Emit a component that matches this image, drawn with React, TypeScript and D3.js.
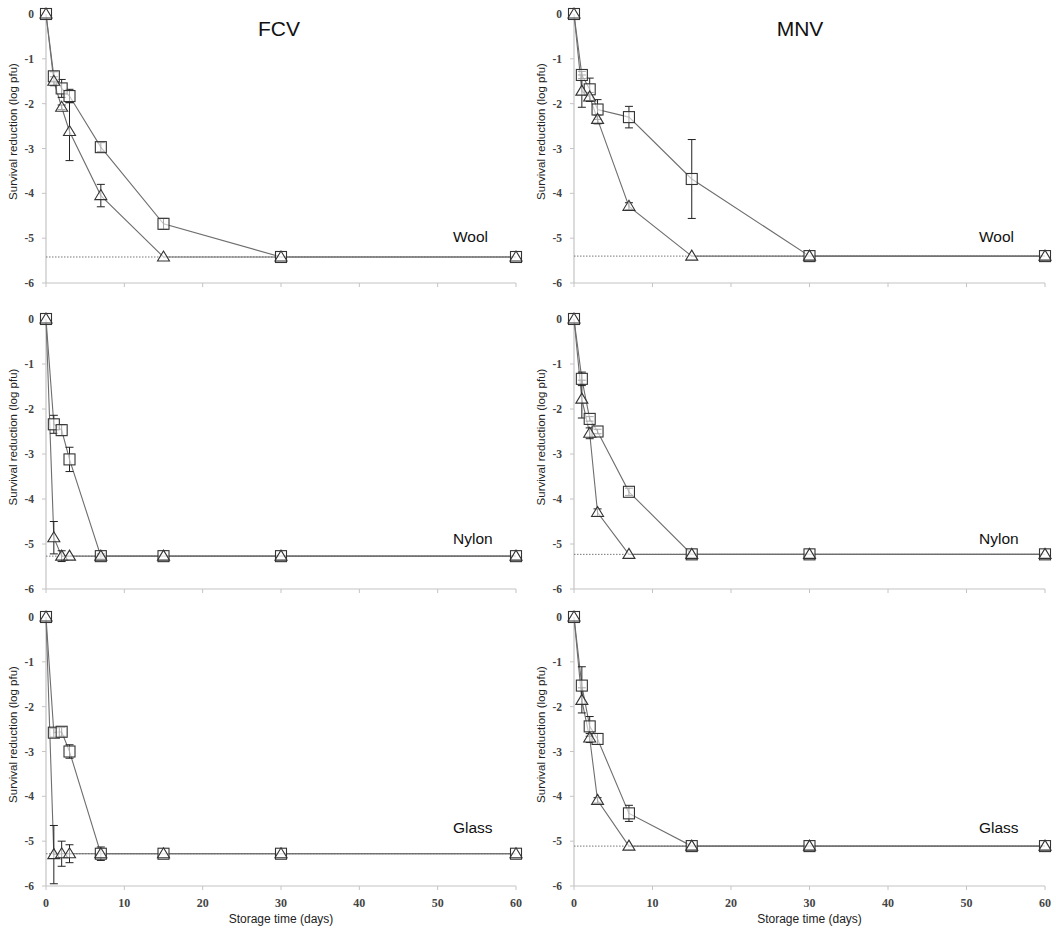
import React from "react";
import * as d3 from "d3";

const DAYS = [0, 1, 2, 3, 7, 15, 30, 60];
const Y_TICKS = [0, -1, -2, -3, -4, -5, -6];
const X_TICKS = [0, 10, 20, 30, 40, 50, 60];
const VIRUSES = ["FCV", "MNV"];
const MATERIALS = ["Wool", "Nylon", "Glass"];

// FCV
const fcvWoolSq = [0, -1.39, -1.66, -1.83, -2.97, -4.68, -5.42, -5.42];
const fcvWoolSqErr = [0, 0.1, 0.2, 0.15, 0.1, 0.12, 0, 0];
const fcvWoolTri = [0, -1.5, -2.08, -2.62, -4.05, -5.42, -5.42, -5.42];
const fcvWoolTriErr = [0, 0.1, 0.05, 0.65, 0.25, 0, 0, 0];
const fcvNylonSq = [0, -2.34, -2.47, -3.12, -5.27, -5.27, -5.27, -5.27];
const fcvNylonSqErr = [0, 0.2, 0.12, 0.27, 0.05, 0, 0, 0];
const fcvNylonTri = [0, -4.86, -5.27, -5.27, -5.27, -5.27, -5.27, -5.27];
const fcvNylonTriErr = [0, 0.36, 0.12, 0, 0, 0, 0, 0];
const fcvGlassSq = [0, -2.58, -2.56, -3.0, -5.28, -5.28, -5.28, -5.28];
const fcvGlassSqErr = [0, 0.1, 0.1, 0.15, 0.15, 0, 0, 0];
const fcvGlassTri = [0, -5.3, -5.28, -5.28, -5.28, -5.28, -5.28, -5.28];
const fcvGlassTriErr = [0, 0.65, 0.28, 0.2, 0, 0, 0, 0];

// MNV
const mnvWoolSq = [0, -1.36, -1.68, -2.13, -2.3, -3.68, -5.4, -5.4];
const mnvWoolSqErr = [0, 0.08, 0.25, 0.22, 0.24, 0.88, 0, 0];
const mnvWoolTri = [0, -1.72, -1.85, -2.35, -4.29, -5.4, -5.4, -5.4];
const mnvWoolTriErr = [0, 0.36, 0.1, 0.1, 0.08, 0, 0, 0];
const mnvNylonSq = [0, -1.33, -2.22, -2.5, -3.84, -5.23, -5.23, -5.23];
const mnvNylonSqErr = [0, 0.15, 0.05, 0.05, 0.08, 0, 0, 0];
const mnvNylonTri = [0, -1.78, -2.54, -4.3, -5.23, -5.23, -5.23, -5.23];
const mnvNylonTriErr = [0, 0.42, 0.12, 0.08, 0, 0, 0, 0];
const mnvGlassSq = [0, -1.53, -2.44, -2.72, -4.38, -5.11, -5.11, -5.11];
const mnvGlassSqErr = [0, 0.42, 0.22, 0.12, 0.18, 0, 0, 0];
const mnvGlassTri = [0, -1.86, -2.7, -4.09, -5.11, -5.11, -5.11, -5.11];
const mnvGlassTriErr = [0, 0.28, 0.1, 0.06, 0, 0, 0, 0];

const DETECTION_LIMITS = [
  [-5.42, -5.27, -5.28],
  [-5.4, -5.23, -5.11],
];

const PANEL_DATA = [
  [
    { sq: fcvWoolSq, sqErr: fcvWoolSqErr, tri: fcvWoolTri, triErr: fcvWoolTriErr },
    { sq: fcvNylonSq, sqErr: fcvNylonSqErr, tri: fcvNylonTri, triErr: fcvNylonTriErr },
    { sq: fcvGlassSq, sqErr: fcvGlassSqErr, tri: fcvGlassTri, triErr: fcvGlassTriErr },
  ],
  [
    { sq: mnvWoolSq, sqErr: mnvWoolSqErr, tri: mnvWoolTri, triErr: mnvWoolTriErr },
    { sq: mnvNylonSq, sqErr: mnvNylonSqErr, tri: mnvNylonTri, triErr: mnvNylonTriErr },
    { sq: mnvGlassSq, sqErr: mnvGlassSqErr, tri: mnvGlassTri, triErr: mnvGlassTriErr },
  ],
];

const COLS = [
  { x0: 46, x1: 516 },
  { x0: 574, x1: 1045 },
];
const ROWS = [
  { y0: 14, y1: 283, labelY: 242 },
  { y0: 319, y1: 589, labelY: 544 },
  { y0: 617, y1: 886, labelY: 833 },
];

const SANS = "'Liberation Sans', Arial, sans-serif";
const SERIF = "'Liberation Serif', 'Times New Roman', serif";
const AXIS = "#c4c4c4";
const LINE = "#6e6e6e";

function Panel({ col, row }: { col: number; row: number }) {
  const c = COLS[col];
  const r = ROWS[row];
  const d = PANEL_DATA[col][row];
  const limit = DETECTION_LIMITS[col][row];
  const x = d3.scaleLinear().domain([0, 60]).range([c.x0, c.x1]);
  const y = d3.scaleLinear().domain([-6, 0]).range([r.y1, r.y0]);
  const line = d3
    .line<[number, number]>()
    .x((p) => x(p[0]))
    .y((p) => y(p[1]));
  const sqPts = DAYS.map((t, i) => [t, d.sq[i]] as [number, number]);
  const triPts = DAYS.map((t, i) => [t, d.tri[i]] as [number, number]);
  const midY = (r.y0 + r.y1) / 2 - 17;
  const labelX = col === 0 ? 13 : 541;
  const tickLabelX = c.x0 - 12;
  const cap = 4;
  const s = 5.5;
  const triPath = (cx: number, cy: number) => {
    const h = 10;
    const w = 12;
    return `M${cx},${cy - h * 0.6}L${cx + w / 2},${cy + h * 0.4}L${cx - w / 2},${cy + h * 0.4}Z`;
  };
  const errBar = (t: number, v: number, e: number, k: string) => {
    if (!e) return null;
    const px = x(t);
    const a = y(v + e);
    const b = y(v - e);
    return (
      <g key={k} stroke="#222" strokeWidth={1}>
        <line x1={px} x2={px} y1={a} y2={b} />
        <line x1={px - cap} x2={px + cap} y1={a} y2={a} />
        <line x1={px - cap} x2={px + cap} y1={b} y2={b} />
      </g>
    );
  };
  return (
    <g>
      <line x1={c.x0} x2={c.x0} y1={r.y0} y2={r.y1} stroke={AXIS} strokeWidth={1.2} />
      <line x1={c.x0} x2={c.x1} y1={r.y1} y2={r.y1} stroke={AXIS} strokeWidth={1.2} />
      {Y_TICKS.map((t) => (
        <g key={"yt" + t}>
          <line x1={c.x0 - 4} x2={c.x0} y1={y(t)} y2={y(t)} stroke={AXIS} />
          <text
            x={tickLabelX}
            y={y(t)}
            dy="0.35em"
            textAnchor="end"
            fontFamily={SERIF}
            fontSize={11.5}
            fontWeight={600}
            fill="#444"
          >
            {t === 0 ? "0" : "-" + Math.abs(t)}
          </text>
        </g>
      ))}
      {X_TICKS.map((t) => (
        <g key={"xt" + t}>
          <line x1={x(t)} x2={x(t)} y1={r.y1} y2={r.y1 + 4} stroke={AXIS} />
          {row === 2 && (
            <text
              x={x(t)}
              y={907}
              textAnchor="middle"
              fontFamily={SERIF}
              fontSize={12}
              fontWeight={600}
              fill="#444"
            >
              {t}
            </text>
          )}
        </g>
      ))}
      <text
        transform={`translate(${labelX},${midY}) rotate(-90)`}
        textAnchor="middle"
        dy="0.35em"
        fontFamily={SANS}
        fontSize={11.5}
        fill="#222"
      >
        Survival reduction (log pfu)
      </text>
      {row === 2 && (
        <text
          x={x(30)}
          y={923}
          textAnchor="middle"
          fontFamily={SANS}
          fontSize={12}
          fill="#222"
        >
          Storage time (days)
        </text>
      )}
      {row === 0 && (
        <text
          x={col === 0 ? 279 : 800}
          y={36}
          textAnchor="middle"
          fontFamily={SANS}
          fontSize={21}
          fill="#111"
        >
          {VIRUSES[col]}
        </text>
      )}
      <text
        x={col === 0 ? 453 : 979}
        y={r.labelY}
        fontFamily={SANS}
        fontSize={15.5}
        fill="#111"
      >
        {MATERIALS[row]}
      </text>
      <line
        x1={x(0)}
        x2={x(60)}
        y1={y(limit)}
        y2={y(limit)}
        stroke="#777"
        strokeWidth={1}
        strokeDasharray="1.5,1.5"
      />
      <path d={line(sqPts) || ""} fill="none" stroke={LINE} strokeWidth={1.1} />
      <path d={line(triPts) || ""} fill="none" stroke={LINE} strokeWidth={1.1} />
      {DAYS.map((t, i) => errBar(t, d.sq[i], d.sqErr[i], "es" + i))}
      {DAYS.map((t, i) => errBar(t, d.tri[i], d.triErr[i], "et" + i))}
      {sqPts.map((p, i) => (
        <rect
          key={"s" + i}
          x={x(p[0]) - s}
          y={y(p[1]) - s}
          width={2 * s}
          height={2 * s}
          fill="white"
          fillOpacity={0.6}
          stroke="#333"
          strokeWidth={1.1}
        />
      ))}
      {triPts.map((p, i) => (
        <path
          key={"t" + i}
          d={triPath(x(p[0]), y(p[1]))}
          fill="white"
          fillOpacity={0.6}
          stroke="#333"
          strokeWidth={1.1}
        />
      ))}
    </g>
  );
}

export default function App() {
  return (
    <svg width={1056} height={930} style={{ display: "block", position: "absolute", left: 0, top: 0 }}>
      <rect x={0} y={0} width={1056} height={930} fill="white" />
      {[0, 1].map((col) =>
        [0, 1, 2].map((row) => <Panel key={col + "-" + row} col={col} row={row} />)
      )}
    </svg>
  );
}
